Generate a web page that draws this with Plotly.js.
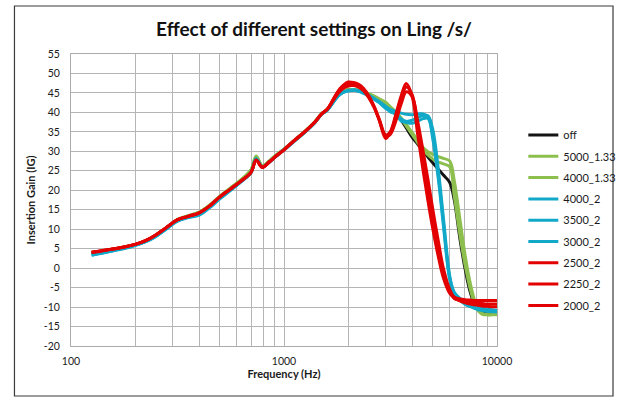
<!DOCTYPE html>
<html>
<head>
<meta charset="utf-8">
<script src="https://cdn.plot.ly/plotly-3.0.1.min.js"></script>
<style>html,body{margin:0;padding:0;background:#fff;}#chart{width:633px;height:400px;}</style>
</head>
<body>
<div id="chart"></div>
<script>
// Frequencies (Hz)
const freq = [125, 140, 160, 180, 200, 225, 250, 280, 315, 355, 400, 450, 500, 560, 630, 700, 740, 790, 850, 900,
  1000, 1120, 1250, 1400, 1500, 1600, 1700, 1800, 1900, 2000, 2120, 2240, 2360, 2500, 2650, 2800, 3000, 3150, 3350, 3550,
  3750, 4000, 4250, 4500, 4750, 5000, 5300, 5600, 6000, 6300, 6700, 7100, 7500, 8000, 8500, 9000, 9500, 10000];

// Insertion gain (dB) per setting
const igOff = [3.9, 4.2, 4.7, 5.3, 6.0, 7.0, 8.3, 10.2, 12.3, 13.4, 14.3, 16.0, 18.2, 20.2, 22.4, 24.8, 28.2, 26.0, 27.3, 28.5,
  30.5, 32.8, 35.0, 37.6, 39.6, 40.8, 42.8, 44.5, 45.4, 45.8, 45.9, 45.6, 45.2, 44.6, 44.0, 43.3, 42.4, 41.3, 39.8, 38.0,
  36.0, 33.6, 31.8, 30.0, 28.5, 27.0, 25.4, 23.9, 22.0, 17.5, 7.5, -0.5, -6.3, -10.3, -11.5, -11.8, -11.8, -11.8];
const ig5000_133 = [4.0, 4.4, 5.0, 5.5, 6.1, 7.1, 8.5, 10.4, 12.5, 13.5, 14.4, 16.3, 18.5, 20.6, 22.8, 25.3, 28.8, 26.4, 27.5, 28.7,
  30.6, 32.9, 35.1, 37.7, 39.7, 40.8, 42.8, 44.5, 45.4, 45.8, 45.9, 45.7, 45.3, 44.8, 44.2, 43.5, 42.6, 41.5, 40.1, 38.6,
  36.9, 34.8, 32.8, 31.0, 29.9, 29.2, 28.6, 28.2, 27.5, 22.5, 12.5, 3.0, -4.0, -9.5, -11.5, -12.0, -12.0, -12.0];
const ig4000_133 = [4.0, 4.4, 4.9, 5.4, 6.0, 7.0, 8.4, 10.3, 12.4, 13.4, 14.3, 16.2, 18.4, 20.5, 22.7, 25.1, 28.6, 26.3, 27.4, 28.6,
  30.5, 32.8, 35.0, 37.6, 39.6, 40.7, 42.7, 44.4, 45.3, 45.7, 45.8, 45.6, 45.2, 44.7, 44.1, 43.4, 42.4, 41.3, 39.9, 38.3,
  36.5, 34.3, 32.2, 30.3, 29.0, 28.0, 27.2, 26.8, 26.0, 18.5, 8.5, 0.5, -5.5, -10.3, -11.8, -12.0, -11.9, -11.8];
const ig4000_2 = [3.3, 3.8, 4.5, 5.1, 5.8, 6.8, 8.1, 10.0, 12.0, 13.0, 13.6, 15.6, 17.8, 19.9, 22.2, 24.5, 28.0, 25.9, 27.1, 28.3,
  30.3, 32.6, 34.8, 37.4, 39.5, 40.6, 42.5, 44.2, 45.2, 45.6, 45.8, 45.6, 45.1, 44.4, 43.6, 42.8, 41.6, 40.8, 40.3, 39.8,
  39.5, 39.4, 39.6, 39.6, 38.8, 34.0, 24.0, 12.0, -2.5, -6.2, -7.8, -8.7, -9.3, -9.8, -10.2, -10.5, -10.7, -10.8];
const ig3500_2 = [3.4, 3.9, 4.6, 5.2, 5.9, 6.9, 8.2, 10.1, 12.1, 13.1, 13.8, 15.8, 18.0, 20.0, 22.3, 24.6, 28.1, 26.0, 27.2, 28.4,
  30.4, 32.7, 34.9, 37.5, 39.5, 40.6, 42.6, 44.3, 45.2, 45.6, 45.7, 45.5, 45.0, 44.3, 43.5, 42.6, 41.3, 40.2, 39.6, 38.3,
  37.7, 38.0, 38.7, 39.2, 39.1, 35.5, 25.5, 13.0, -2.0, -6.5, -8.0, -9.0, -9.6, -10.2, -10.6, -10.9, -11.0, -11.1];
const ig3000_2 = [3.5, 4.0, 4.6, 5.2, 5.9, 6.9, 8.2, 10.1, 12.1, 13.1, 13.9, 15.9, 18.0, 20.1, 22.3, 24.6, 28.1, 26.0, 27.2, 28.4,
  30.4, 32.7, 34.9, 37.5, 39.5, 40.6, 42.6, 44.3, 45.2, 45.5, 45.7, 45.4, 44.9, 44.2, 43.4, 42.5, 41.0, 40.5, 39.5, 37.8,
  37.4, 37.2, 37.8, 38.4, 38.4, 33.0, 23.0, 11.0, -3.0, -6.8, -8.3, -9.3, -9.9, -10.5, -10.9, -11.1, -11.2, -11.3];
const ig2500_2 = [4.1, 4.5, 5.0, 5.5, 6.1, 7.1, 8.5, 10.4, 12.4, 13.3, 14.2, 16.1, 18.3, 20.3, 22.4, 24.6, 27.8, 25.9, 27.2, 28.4,
  30.4, 32.8, 35.0, 37.6, 39.6, 40.9, 43.3, 45.6, 47.0, 47.8, 47.7, 47.2, 46.2, 44.3, 41.5, 38.0, 33.3, 34.8, 39.5, 44.3,
  47.4, 44.0, 34.0, 25.0, 17.0, 10.0, 3.0, -2.5, -6.5, -7.5, -7.9, -8.1, -8.2, -8.3, -8.3, -8.3, -8.3, -8.3];
const ig2250_2 = [4.1, 4.5, 5.0, 5.5, 6.1, 7.1, 8.5, 10.4, 12.4, 13.3, 14.2, 16.1, 18.3, 20.3, 22.4, 24.6, 27.7, 25.9, 27.2, 28.4,
  30.4, 32.8, 35.0, 37.6, 39.6, 40.9, 43.2, 45.3, 46.6, 47.3, 47.2, 46.8, 45.8, 44.0, 41.5, 38.3, 34.2, 35.0, 39.0, 43.5,
  46.5, 44.5, 36.0, 28.0, 20.0, 12.5, 5.0, -1.0, -6.0, -7.8, -8.3, -8.6, -8.8, -9.0, -9.1, -9.2, -9.2, -9.2];
const ig2000_2 = [4.0, 4.4, 5.0, 5.5, 6.1, 7.1, 8.5, 10.4, 12.4, 13.3, 14.2, 16.1, 18.3, 20.3, 22.4, 24.6, 27.7, 25.9, 27.2, 28.4,
  30.4, 32.8, 35.0, 37.6, 39.6, 40.9, 43.0, 45.0, 46.2, 46.8, 46.9, 46.5, 45.6, 43.8, 41.2, 38.0, 34.0, 34.3, 37.8, 42.2,
  45.3, 44.0, 37.5, 30.0, 22.5, 15.0, 7.0, 0.0, -5.5, -7.5, -8.4, -8.9, -9.2, -9.5, -9.7, -9.8, -9.9, -9.9];

const seriesNames = ['off', '5000_1.33', '4000_1.33', '4000_2', '3500_2', '3000_2', '2500_2', '2250_2', '2000_2'];
const seriesValues = [igOff, ig5000_133, ig4000_133, ig4000_2, ig3500_2, ig3000_2, ig2500_2, ig2250_2, ig2000_2];

const xTickVals = [100, 200, 300, 400, 500, 600, 700, 800, 900, 1000, 2000, 3000, 4000, 5000, 6000, 7000, 8000, 9000, 10000];
const xTickText = ['100', '', '', '', '', '', '', '', '', '1000', '', '', '', '', '', '', '', '', '10000'];
const yTickVals = [-20, -15, -10, -5, 0, 5, 10, 15, 20, 25, 30, 35, 40, 45, 50, 55];
const yTickText = ['-20', '-15', '-10', '-5', '0', '5', '10', '15', '20', '25', '30', '35', '40', '45', '50', '55'];

const colorFor = {
  'off': '#141414',
  '5000_1.33': '#8DBF4F', '4000_1.33': '#8DBF4F',
  '4000_2': '#12A9C9', '3500_2': '#12A9C9', '3000_2': '#12A9C9',
  '2500_2': '#E30000', '2250_2': '#E30000', '2000_2': '#E30000'
};

const FONT = 'Lato, "Open Sans", "DejaVu Sans", sans-serif';

const traces = seriesNames.map((name, i) => ({
  type: 'scatter',
  mode: 'lines',
  name: name,
  legendgroup: 'g' + i,
  x: freq,
  y: seriesValues[i],
  line: {color: colorFor[name], width: 3, shape: 'spline', smoothing: 1},
  hoverinfo: 'skip'
}));

const W = 633, H = 400, L = 71, R = 508, T = 54, B = 346;
const pw = R - L, ph = B - T;
const px2x = p => (p - L) / pw;
const px2y = p => (B - p) / ph;

const layout = {
  width: W, height: H,
  margin: {l: L, r: W - R, t: T, b: H - B, pad: 0},
  paper_bgcolor: '#ffffff',
  plot_bgcolor: '#ffffff',
  font: {family: FONT, size: 11, color: '#1a1a1a'},
  title: {
    text: '<b>Effect of different settings on Ling /s/</b>',
    font: {family: FONT, size: 19, color: '#111'},
    x: 314 / W, xanchor: 'center', xref: 'container',
    y: 1 - 29 / H, yanchor: 'middle', yref: 'container'
  },
  xaxis: {
    type: 'log',
    range: [2, 4],
    tickvals: xTickVals,
    ticktext: xTickText,
    ticks: '',
    ticklabelstandoff: 5,
    showgrid: true,
    gridcolor: '#B5B5B5',
    gridwidth: 1,
    showline: true,
    mirror: true,
    linecolor: '#ABABAB',
    linewidth: 1,
    zeroline: false,
    tickfont: {family: FONT, size: 10.5, color: '#1a1a1a'},
    title: {text: '<b>Frequency (Hz)</b>', font: {family: FONT, size: 11, color: '#1a1a1a'}, standoff: 1},
    fixedrange: true
  },
  yaxis: {
    range: [-20, 55],
    tickvals: yTickVals,
    ticktext: yTickText,
    ticks: '',
    ticklabelstandoff: 8,
    showgrid: true,
    gridcolor: '#B5B5B5',
    gridwidth: 1,
    showline: true,
    mirror: true,
    linecolor: '#ABABAB',
    linewidth: 1,
    zeroline: false,
    tickfont: {family: FONT, size: 10.5, color: '#1a1a1a'},
    title: {text: '<b>Insertion Gain (IG)</b>', font: {family: FONT, size: 11, color: '#1a1a1a'}, standoff: 5},
    fixedrange: true
  },
  showlegend: true,
  legend: {
    x: px2x(535), xanchor: 'left',
    y: px2y(220.5), yanchor: 'middle',
    font: {family: FONT, size: 11, color: '#1a1a1a'},
    bgcolor: 'rgba(0,0,0,0)',
    borderwidth: 0,
    tracegroupgap: 2.3,
    traceorder: 'grouped'
  },
  shapes: [{
    type: 'rect', xref: 'paper', yref: 'paper',
    x0: px2x(13), x1: px2x(627), y0: px2y(396), y1: px2y(6),
    line: {color: '#3a3a3a', width: 1.2},
    fillcolor: 'rgba(0,0,0,0)',
    layer: 'below'
  }]
};

Plotly.newPlot('chart', traces, layout, {displayModeBar: false, staticPlot: true});
</script>
</body>
</html>
